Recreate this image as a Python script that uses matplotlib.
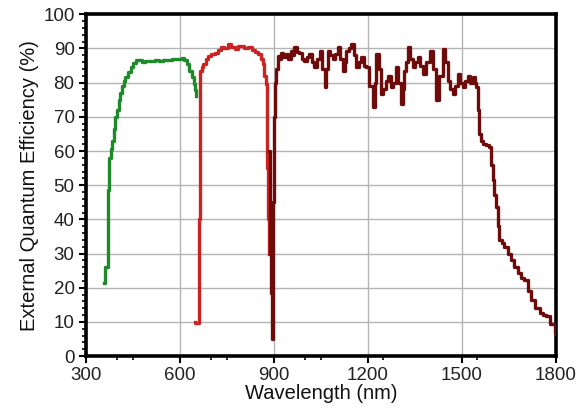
import matplotlib
matplotlib.use("Agg")
import matplotlib.pyplot as plt
from matplotlib.ticker import MultipleLocator, FixedLocator

# Green detector (UV/VIS)
green_x = [358, 362, 363, 369, 371, 374, 380, 385, 390, 395, 400, 406, 411, 416, 421, 427, 435, 443,
           452, 460, 469, 480, 490, 500, 511, 522, 535, 548, 564, 575, 588, 600, 606, 614, 622, 630,
           638, 644, 649, 652]
green_y = [21.4, 22.0, 26.0, 26.0, 48.5, 58.0, 60.5, 63.0, 66.5, 70.0, 72.0, 75.0, 77.0, 79.0, 80.5,
           81.5, 83.0, 84.5, 85.8, 86.5, 86.6, 86.0, 86.4, 86.2, 86.2, 86.6, 86.4, 86.7, 86.6, 86.8,
           86.9, 87.0, 87.2, 86.6, 85.4, 83.5, 81.5, 79.5, 77.7, 76.0]

# Red detector (VIS/NIR)
red_x = [648, 650, 656, 661, 663, 664, 670, 675, 683, 691, 700, 712, 722, 733, 742, 754, 764, 775,
         786, 796, 806, 818, 830, 840, 849, 858, 865, 870, 876, 879, 880, 882, 884]
red_y = [10.0, 9.7, 9.7, 9.8, 40.0, 83.5, 84.5, 85.4, 86.8, 87.9, 88.4, 88.8, 89.6, 90.3, 90.0, 91.3,
         90.5, 89.8, 90.6, 90.8, 90.0, 90.3, 89.6, 89.0, 88.3, 87.0, 85.4, 82.0, 79.6, 70.0, 55.0,
         40.0, 30.0]

# Dark red detector (NIR InGaAs)
dred_x = [885, 888, 891, 893, 895, 897, 899, 902, 905, 907, 912, 918, 923, 930, 939, 947, 955, 961,
          966, 974, 982, 990, 998, 1006, 1014, 1022, 1030, 1038, 1046, 1054, 1062, 1067, 1072, 1080,
          1088, 1096, 1104, 1112, 1120, 1126, 1131, 1139, 1147, 1155, 1163, 1171, 1179, 1187, 1195,
          1205, 1216, 1222, 1227, 1235, 1243, 1250, 1258, 1266, 1274, 1282, 1290, 1298, 1306, 1312,
          1317, 1322, 1328, 1336, 1344, 1352, 1360, 1368, 1375, 1386, 1397, 1408, 1418, 1428, 1439,
          1447, 1455, 1463, 1471, 1479, 1487, 1495, 1503, 1511, 1519, 1527, 1535, 1541, 1546, 1551,
          1556, 1562, 1567, 1578, 1588, 1594, 1599, 1604, 1609, 1615, 1620, 1628, 1636, 1646, 1657,
          1668, 1678, 1689, 1700, 1710, 1721, 1734, 1748, 1758, 1769, 1782, 1796, 1800]
dred_y = [60.0, 30.0, 18.4, 10.0, 4.9, 20.0, 45.0, 70.0, 80.0, 84.0, 87.9, 87.0, 88.8, 87.5, 88.3,
          87.0, 89.3, 88.0, 90.3, 89.0, 88.8, 87.0, 86.4, 87.5, 88.3, 86.0, 84.5, 87.0, 89.3, 84.0,
          78.6, 84.0, 89.3, 88.0, 86.9, 88.5, 90.3, 87.0, 83.5, 86.0, 89.3, 90.0, 91.3, 88.0, 84.5,
          86.0, 87.4, 85.0, 84.5, 79.0, 72.8, 80.0, 88.3, 84.0, 76.7, 78.0, 80.6, 82.0, 78.6, 80.0,
          84.5, 80.0, 73.8, 78.0, 83.5, 86.0, 90.3, 87.0, 84.5, 86.0, 87.4, 85.0, 82.5, 86.0, 89.3,
          84.0, 74.8, 82.0, 89.8, 86.0, 80.6, 78.0, 76.7, 79.0, 82.5, 80.0, 78.6, 80.5, 82.0, 80.0,
          81.5, 80.0, 78.6, 72.0, 65.0, 63.0, 62.0, 61.8, 61.2, 56.0, 51.5, 47.0, 43.7, 38.0, 34.0,
          33.0, 32.0, 30.0, 28.2, 26.0, 24.3, 23.0, 22.3, 19.0, 16.5, 14.0, 12.6, 12.0, 11.7, 9.5,
          6.8, 6.5]

x_ticks = [300, 600, 900, 1200, 1500, 1800]
x_minor = [400, 450, 700, 750, 1000, 1050, 1250, 1550]
y_ticks = list(range(0, 101, 10))

plt.rcParams['font.family'] = ['Liberation Sans', 'DejaVu Sans']

fig = plt.figure(figsize=(5.79, 4.19), dpi=100)
ax = fig.add_axes([0.148, 0.150, 0.812, 0.816])

ax.plot(green_x, green_y, color='#1e8a2a', lw=2.4, drawstyle='steps-post', zorder=3)
ax.plot(red_x, red_y, color='#cc2222', lw=2.4, drawstyle='steps-post', zorder=3)
ax.plot(dred_x, dred_y, color='#6e0c0c', lw=2.4, drawstyle='steps-post', zorder=3)

ax.set_xlim(300, 1800)
ax.set_ylim(0, 100)
ax.xaxis.set_major_locator(FixedLocator(x_ticks))
ax.xaxis.set_minor_locator(FixedLocator(x_minor))
ax.yaxis.set_major_locator(FixedLocator(y_ticks))
ax.yaxis.set_minor_locator(MultipleLocator(2))

ax.grid(True, which='major', color='#b4b4b4', lw=1.0, zorder=0)
for s in ax.spines.values():
    s.set_linewidth(2.6)
    s.set_color('black')

ax.tick_params(axis='both', which='major', direction='out', length=5, width=1.5,
               labelsize=13.5, colors='black', labelcolor='#222222', pad=3)
ax.tick_params(axis='both', which='minor', direction='out', length=3, width=1.2)

ax.set_xlabel('Wavelength (nm)', fontsize=14.5, labelpad=0, color='#111111')
ax.set_ylabel('External Quantum Efficiency (%)', fontsize=14.5, labelpad=3, color='#111111')

fig.savefig('out.png', dpi=100)
